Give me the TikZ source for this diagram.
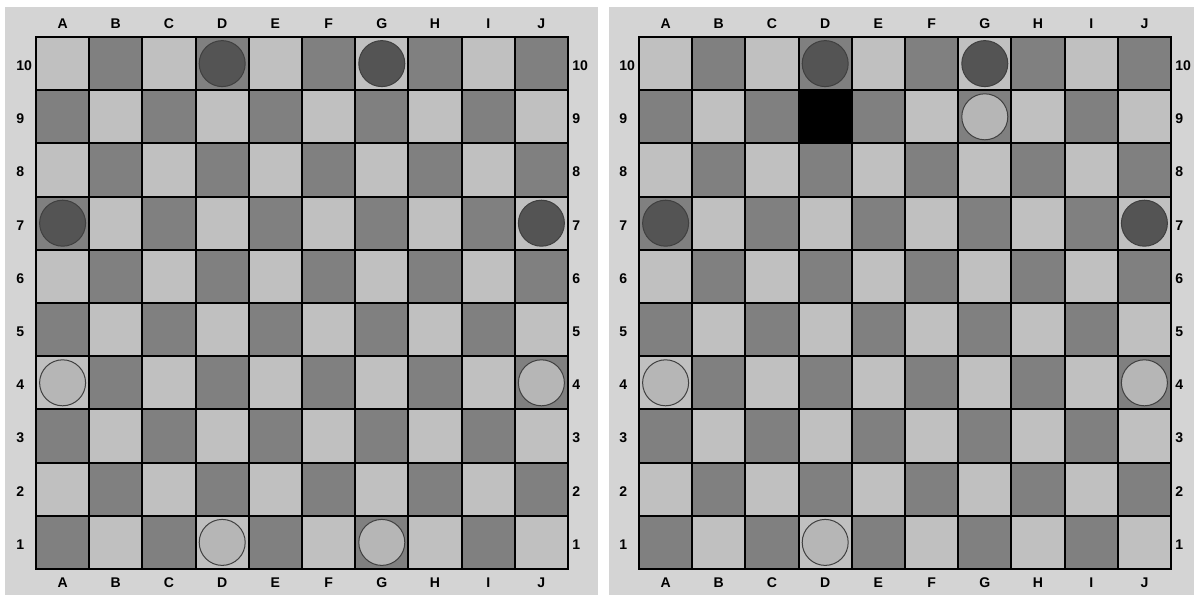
\documentclass[tikz,border=0pt]{standalone}
\usepackage{fontspec}
\setmainfont{Liberation Sans}
\usetikzlibrary{positioning}
\definecolor{panelgray}{RGB}{212,212,212}
\definecolor{lightsq}{RGB}{192,192,192}
\definecolor{darksq}{RGB}{128,128,128}
\definecolor{darkman}{RGB}{84,84,84}
\definecolor{lightman}{RGB}{182,182,182}
\tikzset{
  sq/.style={draw=black, line width=0.04cm, minimum size=1.064cm, inner sep=0pt, outer sep=0pt},
  lsq/.style={sq, fill=lightsq},
  dsq/.style={sq, fill=darksq},
  man/.style={circle, draw=black!75, line width=0.02cm, minimum size=0.92cm, inner sep=0pt},
  bman/.style={man, fill=darkman},
  wman/.style={man, fill=lightman},
  coordlbl/.style={font=\bfseries\fontsize{8}{9}\selectfont, inner sep=0pt},
}

\begin{document}
\begin{tikzpicture}[x=0.02cm, y=-0.02cm]
  \useasboundingbox (0,0) rectangle (1194,596);
  \fill[panelgray] (5,7) rectangle (598,595);
  \fill[panelgray] (609,7) rectangle (1194,595);
  % the two boards
  \foreach \b/\ox in {L/36, R/639} {
    \foreach \col [count=\i] in {A,B,C,D,E,F,G,H,I,J} {
      \foreach \r in {1,...,10} {
        \pgfmathtruncatemacro\odd{mod(\i+\r,2)}
        \ifnum\odd=1 \def\st{lsq}\else\def\st{dsq}\fi
        \node[\st] (\b-\col\r) at ({\ox+(\i-0.5)*53.2},{37+(10.5-\r)*53.2}) {};
      }
      \node[coordlbl] (\b-top-\col) at ({\ox+(\i-0.5)*53.2},24) {\col};
      \node[coordlbl] (\b-bot-\col) at ({\ox+(\i-0.5)*53.2},583) {\col};
    }
    \foreach \r in {1,...,10} {
      \node[coordlbl, anchor=west] (\b-left-\r) at ({\ox-20},{39+(10.5-\r)*53.2}) {\r};
      \node[coordlbl, anchor=west] (\b-right-\r) at ({\ox+536},{39+(10.5-\r)*53.2}) {\r};
    }
  }
  \fill[black] (R-D9.north west) rectangle (R-D9.south east);
  % men
  \foreach \sq in {L-D10, L-G10, L-A7, L-J7, R-D10, R-G10, R-A7, R-J7}
    \node[bman] (man-\sq) at (\sq) {};
  \foreach \sq in {L-A4, L-J4, L-D1, L-G1, R-G9, R-A4, R-J4, R-D1}
    \node[wman] (man-\sq) at (\sq) {};
\end{tikzpicture}
\end{document}
